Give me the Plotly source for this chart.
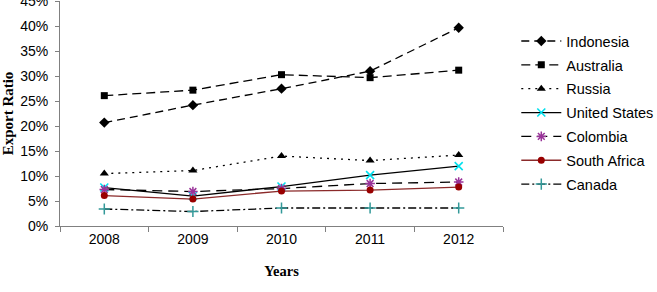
import plotly.graph_objects as go

years = ["2008", "2009", "2010", "2011", "2012"]
indonesia = [20.7, 24.2, 27.5, 31.0, 39.7]
australia = [26.1, 27.2, 30.3, 29.7, 31.2]
russia = [10.5, 11.1, 14.0, 13.1, 14.2]
united_states = [7.7, 6.0, 7.9, 10.2, 12.0]
colombia = [7.3, 6.9, 7.5, 8.5, 8.8]
south_africa = [6.1, 5.4, 7.0, 7.2, 7.8]
canada = [3.4, 2.9, 3.6, 3.6, 3.6]
y_ticks = [0, 5, 10, 15, 20, 25, 30, 35, 40, 45]

series = [
    ("Indonesia", indonesia, dict(color="black", width=1.3, dash="8px,5px"), dict(symbol="diamond", size=8, color="black")),
    ("Australia", australia, dict(color="black", width=1.3, dash="9px,5px"), dict(symbol="square", size=7, color="black")),
    ("Russia", russia, dict(color="black", width=1.3, dash="2px,5px"), dict(symbol="triangle-up", size=8, color="black")),
    ("United States", united_states, dict(color="black", width=1.3), dict(symbol="x-thin-open", size=8, color="#00E0EE", line=dict(width=1.6, color="#00E0EE"))),
    ("Colombia", colombia, dict(color="black", width=1.3, dash="10px,6px"), dict(symbol="asterisk-open", size=8, color="#993399", line=dict(width=1.5, color="#993399"))),
    ("South Africa", south_africa, dict(color="#8B2A2A", width=1.3), dict(symbol="circle", size=7, color="#990000")),
    ("Canada", canada, dict(color="black", width=1.3, dash="8px,3px,2px,3px"), dict(symbol="cross-thin-open", size=8, color="#339999", line=dict(width=1.5, color="#339999"))),
]

fig = go.Figure()
for name, vals, ln, mk in series:
    fig.add_trace(go.Scatter(x=years, y=vals, name=name, legendgroup=name,
                             mode="lines+markers", line=ln, marker=mk))

fig.update_layout(
    width=657, height=292,
    margin=dict(l=60, r=154, t=1, b=66, autoexpand=False),
    paper_bgcolor="white", plot_bgcolor="white",
    font=dict(family="Liberation Sans, Arial", size=14, color="black"),
    legend=dict(x=1.03, y=0.893, xanchor="left", yanchor="top",
                font=dict(size=14.5), tracegroupgap=2, itemwidth=40,
                bgcolor="rgba(0,0,0,0)"),
    showlegend=True,
)
fig.update_xaxes(type="category", tickson="boundaries", ticks="outside", ticklen=5,
                 showline=True, linecolor="#808080", linewidth=1, tickcolor="#808080",
                 showgrid=False, zeroline=False, range=[-0.5, 4.5], automargin=False,
                 title=dict(text="<b>Years</b>", font=dict(family="Liberation Serif, Times New Roman", size=14.5), standoff=20))
fig.update_yaxes(range=[0, 45.05], tickvals=y_ticks, ticktext=[f"{v}%" for v in y_ticks],
                 ticks="outside", ticklen=4, showline=True, linecolor="#808080", tickcolor="#808080",
                 showgrid=False, zeroline=False, ticklabeloverflow="allow", ticklabelstandoff=4,
                 automargin=False,
                 title=dict(text="<b>Export Ratio</b>", font=dict(family="Liberation Serif, Times New Roman", size=15), standoff=2))

fig.write_html("out.html")
